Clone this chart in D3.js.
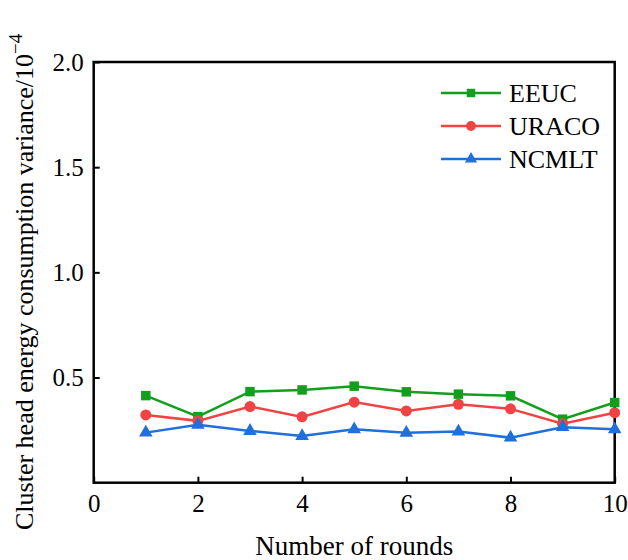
<!DOCTYPE html>
<html>
<head>
<meta charset="utf-8">
<script src="https://cdn.jsdelivr.net/npm/d3@7"></script>
<style>
    body { margin: 0; background: #fff; }
    svg text { font-family: "Liberation Serif", "Times New Roman", serif; fill: #000; }
</style>
</head>
<body>
<svg id="chart"></svg>
<script>
var rounds = [1, 2, 3, 4, 5, 6, 7, 8, 9, 10];
var eeuc = [0.414, 0.314, 0.433, 0.441, 0.459, 0.432, 0.421, 0.413, 0.302, 0.381];
var uraco = [0.322, 0.294, 0.362, 0.313, 0.383, 0.341, 0.373, 0.351, 0.280, 0.333];
var ncmlt = [0.238, 0.275, 0.246, 0.222, 0.254, 0.237, 0.243, 0.214, 0.264, 0.254];
var xTicks = [0, 2, 4, 6, 8, 10];
var yTicks = [0.5, 1.0, 1.5, 2.0];

var series = [
    { name: "EEUC", values: eeuc, color: "#12a01c", shape: d3.symbolSquare, size: 90 },
    { name: "URACO", values: uraco, color: "#f04444", shape: d3.symbolCircle, size: 95 },
    { name: "NCMLT", values: ncmlt, color: "#1f6fdc", shape: d3.symbolTriangle, size: 80 }
];

var width = 628, height = 560;
var margin = { top: 62, right: 13.3, bottom: 77.3, left: 93.7 };

var svg = d3.select("#chart")
    .attr("width", width)
    .attr("height", height);

var x = d3.scaleLinear()
    .domain([0, 10])
    .range([margin.left, width - margin.right]);

var y = d3.scaleLinear()
    .domain([0, 2.0])
    .range([height - margin.bottom, margin.top]);

// x axis, ticks point inward
var gx = svg.append("g")
    .attr("transform", "translate(0," + (height - margin.bottom) + ")")
    .call(d3.axisBottom(x).tickValues(xTicks).tickSize(-6).tickPadding(12).tickFormat(d3.format("d")));

var gy = svg.append("g")
    .attr("transform", "translate(" + margin.left + ",0)")
    .call(d3.axisLeft(y).tickValues(yTicks).tickSize(-6).tickPadding(10).tickFormat(d3.format(".1f")));

[gx, gy].forEach(function (g) {
    g.select(".domain").remove();
    g.selectAll(".tick line").attr("stroke", "#000").attr("stroke-width", 2);
    g.selectAll(".tick text").style("font-size", "25px").attr("fill", "#000");
});

// frame
svg.append("rect")
    .attr("x", margin.left)
    .attr("y", margin.top)
    .attr("width", width - margin.left - margin.right)
    .attr("height", height - margin.top - margin.bottom)
    .attr("fill", "none")
    .attr("stroke", "#000")
    .attr("stroke-width", 2.5);

// axis titles
svg.append("text")
    .attr("x", (margin.left + width - margin.right) / 2)
    .attr("y", 555)
    .attr("text-anchor", "middle")
    .style("font-size", "27px")
    .text("Number of rounds");

var yl = svg.append("text")
    .attr("transform", "translate(33,530) rotate(-90)")
    .attr("text-anchor", "start")
    .style("font-size", "26px");
yl.append("tspan").text("Cluster head energy consumption variance/10");
yl.append("tspan").attr("dy", -11).style("font-size", "19px").text("\u22124");

var line = d3.line()
    .x(function (d, i) { return x(rounds[i]); })
    .y(function (d) { return y(d); });

series.forEach(function (s) {
    svg.append("path")
        .datum(s.values)
        .attr("fill", "none")
        .attr("stroke", s.color)
        .attr("stroke-width", 2.5)
        .attr("d", line);

    svg.append("g").selectAll("path")
        .data(s.values)
        .enter().append("path")
        .attr("transform", function (d, i) { return "translate(" + x(rounds[i]) + "," + y(d) + ")"; })
        .attr("d", d3.symbol().type(s.shape).size(s.size))
        .attr("fill", s.color);
});

// legend
var legend = svg.append("g")
    .attr("transform", "translate(441,93)");

var item = legend.selectAll("g")
    .data(series)
    .enter().append("g")
    .attr("transform", function (d, i) { return "translate(0," + (i * 33) + ")"; });

item.append("line")
    .attr("x1", 0).attr("x2", 60)
    .attr("stroke", function (d) { return d.color; })
    .attr("stroke-width", 2.5);

item.append("path")
    .attr("transform", "translate(30,0)")
    .attr("d", function (d) { return d3.symbol().type(d.shape).size(d.size * 0.8)(); })
    .attr("fill", function (d) { return d.color; });

item.append("text")
    .attr("x", 68)
    .attr("dy", "0.35em")
    .style("font-size", "26px")
    .text(function (d) { return d.name; });
</script>
</body>
</html>
